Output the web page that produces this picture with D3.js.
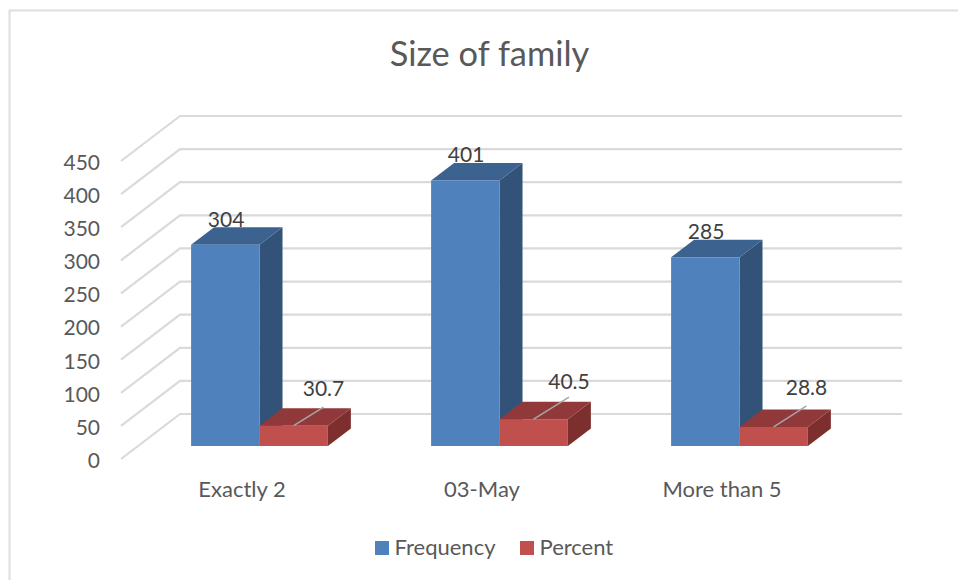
<!DOCTYPE html>
<html>
<head>
<meta charset="utf-8">
<script src="https://cdn.jsdelivr.net/npm/d3@7"></script>
<style>
  html, body { margin: 0; padding: 0; background: #fff; }
  text { font-family: Lato, "Open Sans", sans-serif; }
</style>
</head>
<body>
<div id="my_dataviz"></div>
<script>
// chart values
let categories = ["Exactly 2", "03-May", "More than 5"];
let seriesNames = ["Frequency", "Percent"];
let frequency = [304, 401, 285];
let percent = [30.7, 40.5, 28.8];
let yTicks = [0, 50, 100, 150, 200, 250, 300, 350, 400, 450];

let width = 958;
let height = 580;

// floor of the chart: front edge and how far the back wall is pushed away
let baseY = 459;
let wallDx = 59;
let wallDy = -45;
let barBaseY = 446;
let barDx = 23;
let barDy = -17.5;

// the percent labels were dragged off their bars, so each has its own offset
let percentLabelDx = [64, 69.5, 67];
let percentLabelDy = [-30, -30, -32];
let leaderRise = [18.5, 22, 21];

const colors = {
    Frequency: { front: "#4f81bd", top: "#3c6290", side: "#325278" },
    Percent: { front: "#c0504d", top: "#91393a", side: "#7c2f2e" }
};

let svg = d3.select("#my_dataviz")
    .append("svg")
    .attr("width", width)
    .attr("height", height)
    .style("display", "block");

// outer frame, open on the right
svg.append("path")
    .attr("d", "M9.5,580V10.5H958")
    .attr("fill", "none")
    .attr("stroke", "#dedede")
    .attr("stroke-width", 2);

svg.append("text")
    .attr("x", 489.5)
    .attr("y", 66)
    .attr("text-anchor", "middle")
    .attr("font-size", 34.4)
    .attr("fill", "#595959")
    .text("Size of family");

let y = d3.scaleLinear().domain([0, 450]).range([baseY, baseY - 298]);

let x0 = d3.scaleBand()
    .domain(categories)
    .range([139.5, 859.5])
    .paddingInner(0.43)
    .paddingOuter(0.215);

let x1 = d3.scaleBand()
    .domain(seriesNames)
    .range([0, x0.bandwidth()]);

// gridlines run along the side wall and then across the back wall
svg.append("g")
    .selectAll("path")
    .data(yTicks)
    .enter()
    .append("path")
    .attr("d", d => {
        let py = y(d);
        return "M121," + py + "L" + (121 + wallDx) + "," + (py + wallDy) + "H902";
    })
    .attr("fill", "none")
    .attr("stroke", "#dadada")
    .attr("stroke-width", 2.2);

let yAxis = svg.append("g")
    .attr("transform", "translate(107,0)")
    .call(d3.axisLeft(y).tickValues(yTicks).tickSize(0).tickPadding(7));
yAxis.select(".domain").remove();
yAxis.selectAll("text")
    .attr("font-size", 21)
    .attr("dy", "0.4em")
    .attr("fill", "#595959")
    .style("font-family", "Lato, 'Open Sans', sans-serif");

// one record per bar
let bars = [];
categories.forEach((c, i) => {
    bars.push({ index: i, category: c, series: "Frequency", value: frequency[i] });
    bars.push({ index: i, category: c, series: "Percent", value: percent[i] });
});

// height of a bar comes from the same scale as the axis
const barHeight = d => y(0) - y(d.value);
const barLeft = d => x0(d.category) + x1(d.series);
const barTop = d => barBaseY - barHeight(d);

let bar = svg.append("g")
    .selectAll("g")
    .data(bars)
    .enter()
    .append("g");

bar.append("path")
    .attr("d", d => {
        let r = barLeft(d) + x1.bandwidth(), t = barTop(d);
        return "M" + r + "," + t + "L" + (r + barDx) + "," + (t + barDy)
            + "V" + (barBaseY + barDy) + "L" + r + "," + barBaseY + "Z";
    })
    .attr("fill", d => colors[d.series].side);

bar.append("path")
    .attr("d", d => {
        let l = barLeft(d), r = l + x1.bandwidth(), t = barTop(d);
        return "M" + l + "," + t + "L" + (l + barDx) + "," + (t + barDy)
            + "H" + (r + barDx) + "L" + r + "," + t + "Z";
    })
    .attr("fill", d => colors[d.series].top);

bar.append("rect")
    .attr("x", barLeft)
    .attr("y", barTop)
    .attr("width", x1.bandwidth())
    .attr("height", barHeight)
    .attr("fill", d => colors[d.series].front);

// leader lines for the small bars
bar.filter(d => d.series === "Percent")
    .append("line")
    .attr("x1", d => barLeft(d) + x1.bandwidth() / 2)
    .attr("y1", d => barTop(d))
    .attr("x2", d => barLeft(d) + percentLabelDx[d.index])
    .attr("y2", d => barTop(d) - leaderRise[d.index])
    .attr("stroke", "#a6a6a6")
    .attr("stroke-width", 1.5);

bar.append("text")
    .attr("x", d => d.series === "Frequency" ? barLeft(d) + 35 : barLeft(d) + percentLabelDx[d.index])
    .attr("y", d => d.series === "Frequency" ? barTop(d) - 18 : barTop(d) + percentLabelDy[d.index])
    .attr("text-anchor", "middle")
    .attr("font-size", 21)
    .attr("fill", "#404040")
    .text(d => d.value);

// category labels
svg.append("g")
    .selectAll("text")
    .data(categories)
    .enter()
    .append("text")
    .attr("x", d => x0(d) + x0.bandwidth() / 2 - 17.5)
    .attr("y", 497)
    .attr("text-anchor", "middle")
    .attr("font-size", 22)
    .attr("fill", "#595959")
    .text(d => d);

// legend
let legendX = [375, 520];
let legend = svg.append("g")
    .selectAll("g")
    .data(seriesNames)
    .enter()
    .append("g")
    .attr("transform", (d, i) => "translate(" + legendX[i] + ",541)");

legend.append("rect")
    .attr("width", 14)
    .attr("height", 14)
    .attr("fill", d => colors[d].front);

legend.append("text")
    .attr("x", 19.5)
    .attr("y", 14)
    .attr("font-size", 22)
    .attr("fill", "#595959")
    .text(d => d);
</script>
</body>
</html>
